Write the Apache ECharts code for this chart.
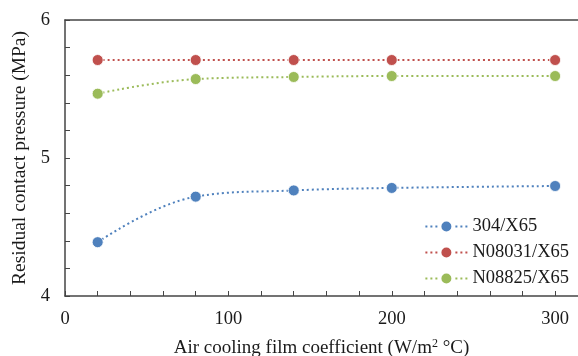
<!DOCTYPE html>
<html>
<head>
<meta charset="utf-8">
<script src="https://cdn.jsdelivr.net/npm/echarts@6/dist/echarts.min.js"></script>
<style>
  html, body { margin: 0; padding: 0; background: #fff; }
  #main { width: 578px; height: 356px; }
</style>
</head>
<body>
<div id="main"></div>
<script>
// film coefficient values (W/m2 °C)
var coeffs = [20, 80, 140, 200, 300];
var ss304 = [4.39, 4.72, 4.765, 4.783, 4.797];
var n08031 = [5.71, 5.71, 5.71, 5.71, 5.71];
var n08825 = [5.466, 5.572, 5.587, 5.594, 5.594];

var seriesNames = ['304/X65', 'N08031/X65', 'N08825/X65'];
var seriesData = [ss304, n08031, n08825];
var colors = ['#4F81BD', '#C0504D', '#9BBB59'];

var font = '"Liberation Serif", "Times New Roman", serif';
var axisColor = '#454545';
var txt = '#1a1a1a';

var chart = echarts.init(document.getElementById('main'));

var series = seriesNames.map(function (name, i) {
  return {
    name: name,
    type: 'line',
    smooth: 0.4,
    symbol: 'circle',
    symbolSize: 11,
    data: coeffs.map(function (x, j) { return [x, seriesData[i][j]]; }),
    itemStyle: { color: colors[i], borderColor: '#fff', borderWidth: 0.8 },
    lineStyle: { color: colors[i], width: 2, type: [2, 3] }
  };
});

var option = {
  animation: false,
  textStyle: { fontFamily: font },
  grid: { left: 65, top: 20, right: 0, bottom: 60, outerBoundsMode: 'none', containLabel: false },
  legend: {
    orient: 'vertical',
    right: 4,
    top: 212,
    itemWidth: 42,
    itemHeight: 15,
    itemGap: 7,
    textStyle: { fontFamily: font, fontSize: 18.5, color: txt },
    data: seriesNames
  },
  xAxis: [{
    type: 'value',
    min: 0,
    max: 314,
    interval: 20,
    name: 'Air cooling film coefficient (W/m{sup|2} \u00b0C)',
    nameLocation: 'middle',
    nameGap: 42,
    nameTextStyle: {
      fontFamily: font, fontSize: 19, color: txt,
      rich: { sup: { fontFamily: font, fontSize: 12, color: txt, verticalAlign: 'top', padding: [0, 0, 8, 0] } }
    },
    axisLine: { lineStyle: { color: axisColor, width: 1.5 } },
    axisTick: { inside: true, length: 5, lineStyle: { color: axisColor } },
    splitLine: { show: false },
    axisLabel: {
      margin: 14,
      fontFamily: font,
      fontSize: 18.5,
      color: txt,
      showMaxLabel: false,
      formatter: function (v) { return v % 100 === 0 ? String(v) : ''; }
    }
  }, {
    type: 'value',
    position: 'top',
    min: 0,
    max: 314,
    axisLine: { show: true, onZero: false, lineStyle: { color: axisColor, width: 1.5 } },
    axisTick: { show: false },
    axisLabel: { show: false },
    splitLine: { show: false }
  }],
  yAxis: {
    type: 'value',
    min: 4,
    max: 6,
    interval: 0.2,
    name: 'Residual contact pressure (MPa)',
    nameLocation: 'middle',
    nameGap: 34,
    nameTextStyle: { fontFamily: font, fontSize: 19.5, color: txt },
    axisLine: { show: true, lineStyle: { color: axisColor, width: 1.5 } },
    axisTick: { inside: true, length: 5, lineStyle: { color: axisColor } },
    splitLine: { show: false },
    axisLabel: {
      margin: 15,
      fontFamily: font,
      fontSize: 18.5,
      color: txt,
      formatter: function (v) {
        return Math.abs(v - Math.round(v)) < 1e-6 ? String(Math.round(v)) : '';
      }
    }
  },
  series: series
};

chart.setOption(option);
</script>
</body>
</html>
